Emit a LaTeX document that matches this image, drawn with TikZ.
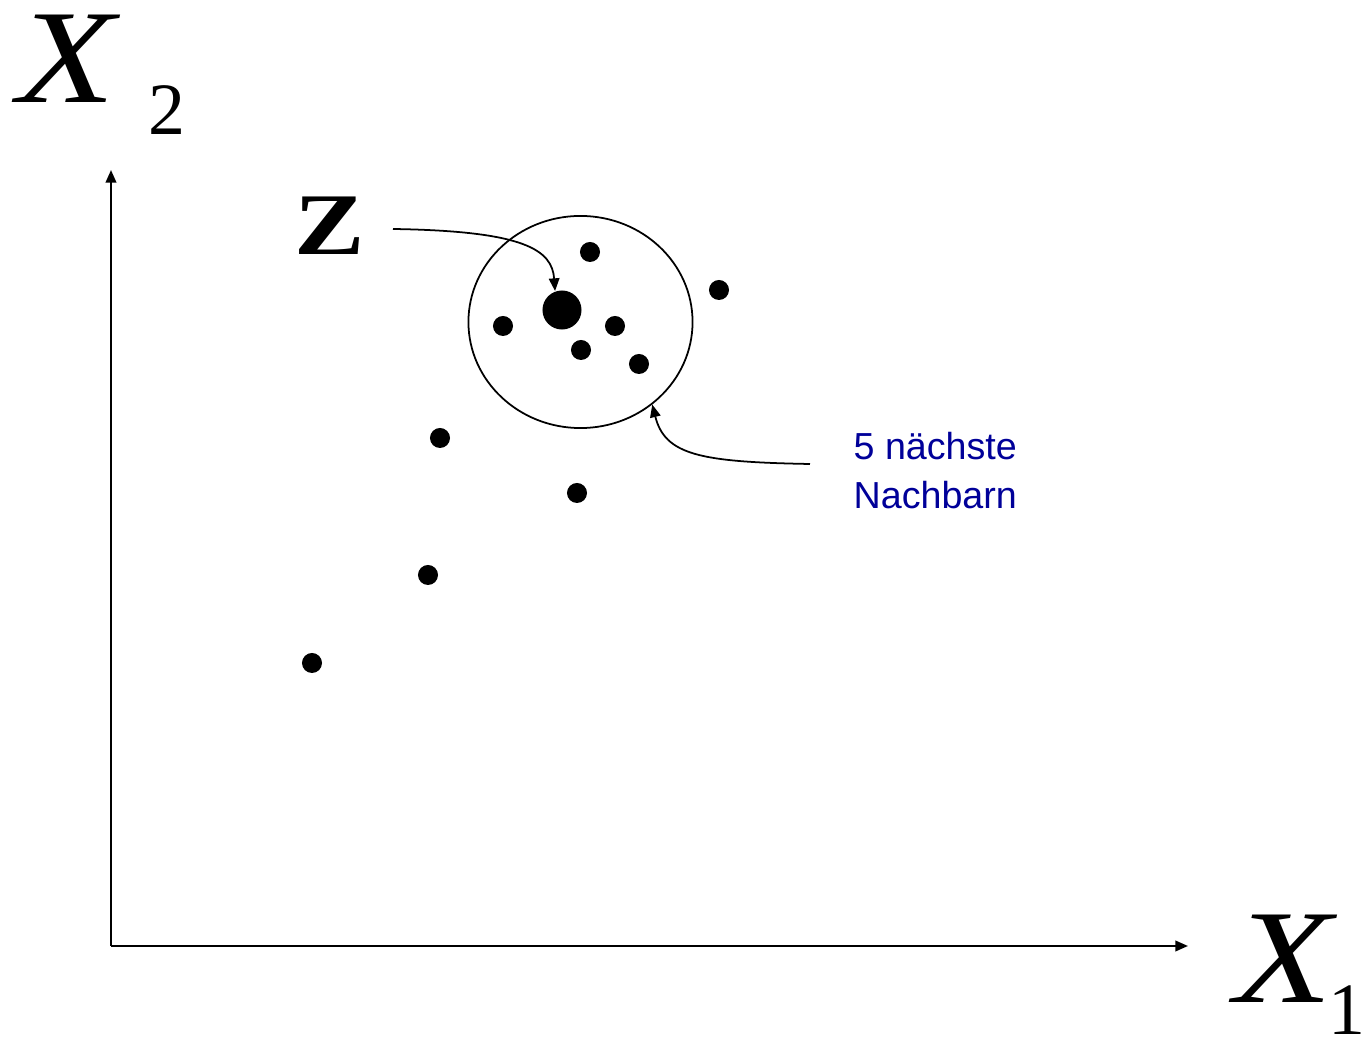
\documentclass[tikz,border=0pt]{standalone}
\usepackage{fontspec}
\setmainfont{Liberation Serif}
\newfontfamily\sansfont{Liberation Sans}
\newfontfamily\widefont[FakeStretch=1.2]{Liberation Serif}
\definecolor{nbBlue}{HTML}{000099}
\usepackage{tikz}
\usetikzlibrary{positioning,arrows.meta,shapes.geometric}

\begin{document}
\begin{tikzpicture}[x=0.01cm, y=-0.01cm, inner sep=0pt,
  dot/.style={circle, fill=black, minimum size=0.2cm},
  axislabel/.style={anchor=base west, font=\widefont\fontsize{38pt}{38pt}\selectfont\itshape},
  axisindex/.style={anchor=base west, font=\fontsize{21pt}{21pt}\selectfont},
  tip/.style={-{Triangle[length=3.6pt, width=3pt]}}]
\useasboundingbox (0,0) rectangle (1365,1040);
\coordinate (o) at (111,946);
\coordinate (xend) at (1188,946);
\coordinate (yend) at (111,170);
\draw[tip, line width=0.6pt] (o) -- (xend);
\draw[tip, line width=0.6pt] (o) -- (yend);
\node[axislabel] (xtwo) at (17,103) {X};
\node[axisindex] (xtwoidx) at (148,135) {2};
\node[axislabel] (xone) at (1234,1003) {X};
\node[axisindex] (xoneidx) at (1328,1035) {1};
\node[draw, ellipse, line width=0.5pt, minimum width=2.24cm, minimum height=2.12cm] (nbhd) at (580.5,322) {};
\node[circle, fill=black, minimum size=0.39cm] (zpt) at (562,310) {};
\node[dot] (p1) at (590,252) {};
\node[dot] (p2) at (719,290) {};
\node[dot] (p3) at (503,326) {};
\node[dot] (p4) at (615,326) {};
\node[dot] (p5) at (581,350) {};
\node[dot] (p6) at (639,364) {};
\node[dot] (p7) at (440,438) {};
\node[dot] (p8) at (577,493) {};
\node[dot] (p9) at (428,575) {};
\node[dot] (p10) at (312,663) {};
\node[anchor=base west, font=\widefont\fontsize{25pt}{25pt}\selectfont\bfseries] (zlabel) at (294,255) {Z};
\coordinate (zfrom) at (393,229);
\draw[tip, line width=0.5pt] (zfrom) .. controls (525,231) and (552,250) .. (zpt.110);
\node[anchor=base west, align=left, text=nbBlue, font=\sansfont\fontsize{10.7pt}{14pt}\selectfont] (nblabel) at (853,509) {5 nächste\\Nachbarn};
\coordinate (nbfrom) at (810,464);
\draw[tip, line width=0.5pt] (nbfrom) .. controls (700,462) and (665,455) .. (nbhd.-49);
\end{tikzpicture}
\end{document}
